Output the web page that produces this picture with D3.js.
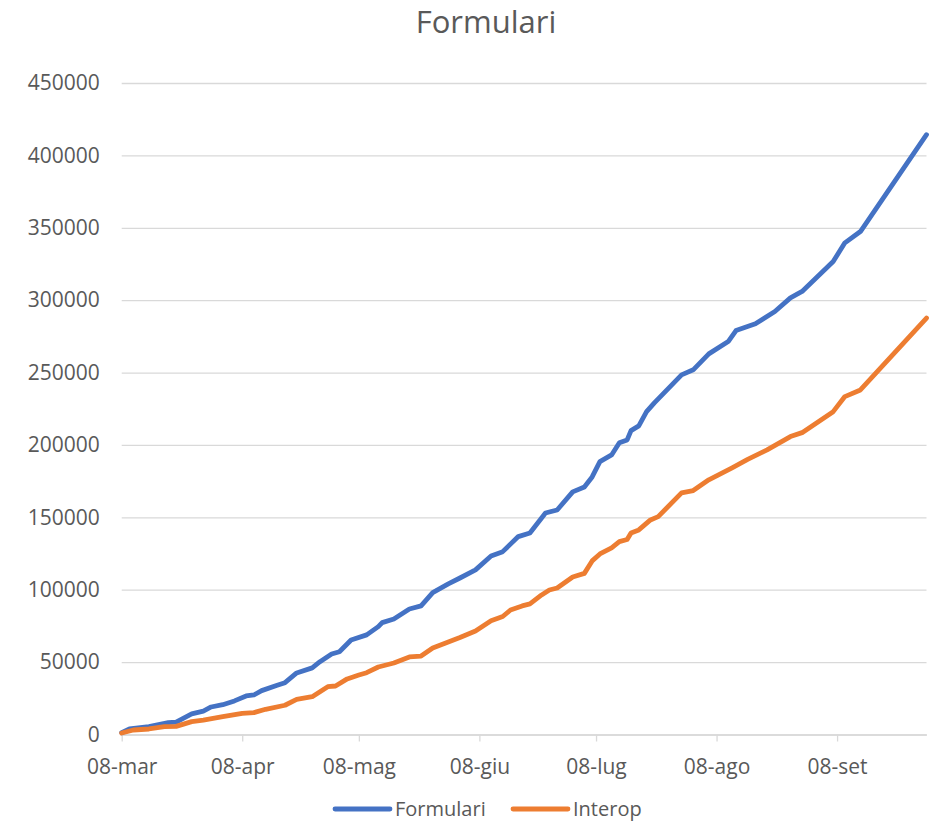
<!DOCTYPE html>
<html>
<head>
<meta charset="utf-8">
<script src="https://cdn.jsdelivr.net/npm/d3@7"></script>
<style>
    body { margin: 0; background: #fff; }
    .chart text { font-family: 'Open Sans', sans-serif; fill: #595959; }
</style>
</head>
<body>
<div class="chart"></div>
<script>
// data (cumulative counts)
const formulari = [
    ['2020-03-08', 1200], ['2020-03-10', 3800], ['2020-03-15', 5400], ['2020-03-20', 8150],
    ['2020-03-22', 8600], ['2020-03-26', 14200], ['2020-03-29', 16200], ['2020-03-31', 19000],
    ['2020-04-03', 20600], ['2020-04-06', 23200], ['2020-04-09', 26600], ['2020-04-11', 27300],
    ['2020-04-13', 30300], ['2020-04-17', 34000], ['2020-04-19', 35800], ['2020-04-22', 42500],
    ['2020-04-26', 46000], ['2020-04-28', 50300], ['2020-05-01', 55600], ['2020-05-03', 57200],
    ['2020-05-06', 65300], ['2020-05-10', 68800], ['2020-05-13', 74500], ['2020-05-14', 77300],
    ['2020-05-17', 79800], ['2020-05-21', 86700], ['2020-05-24', 88800], ['2020-05-27', 98000],
    ['2020-05-31', 104000], ['2020-06-03', 108100], ['2020-06-07', 113700], ['2020-06-11', 123300],
    ['2020-06-14', 126300], ['2020-06-18', 136700], ['2020-06-21', 139200], ['2020-06-25', 153000],
    ['2020-06-28', 155100], ['2020-07-02', 167600], ['2020-07-05', 171000], ['2020-07-07', 177900],
    ['2020-07-09', 188500], ['2020-07-12', 193100], ['2020-07-14', 201500], ['2020-07-16', 203500],
    ['2020-07-17', 209900], ['2020-07-19', 213200], ['2020-07-21', 223000], ['2020-07-23', 229100],
    ['2020-07-30', 248400], ['2020-08-02', 251900], ['2020-08-06', 262900], ['2020-08-11', 271400],
    ['2020-08-13', 279000], ['2020-08-18', 283700], ['2020-08-23', 292200], ['2020-08-27', 301600],
    ['2020-08-30', 306000], ['2020-09-07', 326700], ['2020-09-10', 339600], ['2020-09-14', 347400],
    ['2020-10-01', 414300]
];

const interop = [
    ['2020-03-08', 1000], ['2020-03-11', 3100], ['2020-03-15', 3800], ['2020-03-19', 5400],
    ['2020-03-22', 5600], ['2020-03-26', 8900], ['2020-03-29', 10000], ['2020-04-03', 12300],
    ['2020-04-08', 14600], ['2020-04-11', 15100], ['2020-04-14', 17400], ['2020-04-19', 20200],
    ['2020-04-22', 24300], ['2020-04-26', 26100], ['2020-04-28', 29600], ['2020-04-30', 33000],
    ['2020-05-02', 33500], ['2020-05-05', 38400], ['2020-05-08', 41100], ['2020-05-10', 42700],
    ['2020-05-13', 46600], ['2020-05-17', 49400], ['2020-05-21', 53600], ['2020-05-24', 54200],
    ['2020-05-27', 59800], ['2020-05-31', 63900], ['2020-06-03', 67000], ['2020-06-07', 71500],
    ['2020-06-11', 78600], ['2020-06-14', 81500], ['2020-06-16', 86000], ['2020-06-19', 88800],
    ['2020-06-21', 90200], ['2020-06-24', 96400], ['2020-06-26', 99800], ['2020-06-28', 101200],
    ['2020-07-02', 108800], ['2020-07-05', 111300], ['2020-07-07', 119900], ['2020-07-09', 124700],
    ['2020-07-12', 128900], ['2020-07-14', 133200], ['2020-07-16', 134700], ['2020-07-17', 139200],
    ['2020-07-19', 141300], ['2020-07-22', 148200], ['2020-07-24', 150500], ['2020-07-30', 166900],
    ['2020-08-02', 168500], ['2020-08-06', 175900], ['2020-08-12', 184200], ['2020-08-16', 190000],
    ['2020-08-21', 196600], ['2020-08-27', 205800], ['2020-08-30', 208500], ['2020-09-07', 223000],
    ['2020-09-10', 233400], ['2020-09-14', 238000], ['2020-10-01', 287600]
];

const seriesNames = ['Formulari', 'Interop'];
const seriesColors = ['#4472C4', '#ED7D31'];
const yTicks = [0, 50000, 100000, 150000, 200000, 250000, 300000, 350000, 400000, 450000];
const xTickDates = ['2020-03-08', '2020-04-08', '2020-05-08', '2020-06-08', '2020-07-08', '2020-08-08', '2020-09-08'];
const monthNames = ['gen', 'feb', 'mar', 'apr', 'mag', 'giu', 'lug', 'ago', 'set', 'ott', 'nov', 'dic'];

// dimension stuff
const width = 935;
const height = 824;
const marginLeft = 121.7;
const marginRight = 8.5;
const marginTop = 83;
const marginBottom = 89.5;

const parseDate = d3.timeParse('%Y-%m-%d');
const fmtTick = d => `${d3.timeFormat('%d')(d)}-${monthNames[d.getMonth()]}`;

const series = [formulari, interop].map((rows, i) => ({
    name: seriesNames[i],
    color: seriesColors[i],
    values: rows.map(([date, value]) => ({ date: parseDate(date), value }))
}));

// scales
const scaleX = d3.scaleTime()
    .domain([parseDate('2020-03-08'), parseDate('2020-10-01')])
    .range([marginLeft, width - marginRight]);
const scaleY = d3.scaleLinear()
    .domain([0, 450000])
    .range([height - marginBottom, marginTop]);

const $svg = d3.select('.chart').append('svg')
    .attr('width', width)
    .attr('height', height);

// title
$svg.append('text')
    .attr('x', 486)
    .attr('y', 33)
    .attr('text-anchor', 'middle')
    .style('font-size', '31px')
    .text('Formulari');

// gridlines + y labels
const $yAxis = $svg.append('g')
    .attr('class', 'g-axis y')
    .attr('transform', `translate(${marginLeft}, 0)`)
    .call(d3.axisLeft(scaleY)
        .tickValues(yTicks)
        .tickSize(-(width - marginLeft - marginRight))
        .tickPadding(22)
        .tickFormat(d3.format('d')));
$yAxis.select('.domain').remove();
$yAxis.selectAll('line').attr('stroke', '#d9d9d9').attr('stroke-width', 1.3);
$yAxis.selectAll('text').style('font-size', '21px');

// x axis
const $xAxis = $svg.append('g')
    .attr('class', 'g-axis x')
    .attr('transform', `translate(0, ${scaleY(0)})`)
    .call(d3.axisBottom(scaleX)
        .tickValues(xTickDates.map(parseDate))
        .tickSize(7)
        .tickSizeOuter(0)
        .tickPadding(18)
        .tickFormat(fmtTick));
$xAxis.select('.domain').attr('stroke', '#d9d9d9').attr('stroke-width', 1.3);
$xAxis.selectAll('line').attr('stroke', '#d9d9d9').attr('stroke-width', 1.3);
$xAxis.selectAll('text').style('font-size', '21px');

// lines
const line = d3.line()
    .x(d => scaleX(d.date))
    .y(d => scaleY(d.value));

$svg.append('g').attr('class', 'g-vis')
    .selectAll('path')
    .data(series)
    .join('path')
    .attr('d', d => line(d.values))
    .attr('fill', 'none')
    .attr('stroke', d => d.color)
    .attr('stroke-width', 4.8)
    .attr('stroke-linejoin', 'round')
    .attr('stroke-linecap', 'round');

// legend (nudged up a little so the text is not clipped)
const legendPos = [{ x: 335, tx: 395 }, { x: 513, tx: 573 }];
const $legend = $svg.append('g').attr('class', 'g-legend')
    .selectAll('g')
    .data(series)
    .join('g')
    .attr('transform', 'translate(0, 809)');
$legend.append('line')
    .attr('x1', (d, i) => legendPos[i].x)
    .attr('x2', (d, i) => legendPos[i].x + 55)
    .attr('stroke', d => d.color)
    .attr('stroke-width', 4.8)
    .attr('stroke-linecap', 'round');
$legend.append('text')
    .attr('x', (d, i) => legendPos[i].tx)
    .attr('dy', '0.35em')
    .style('font-size', '20px')
    .text(d => d.name);
</script>
</body>
</html>
